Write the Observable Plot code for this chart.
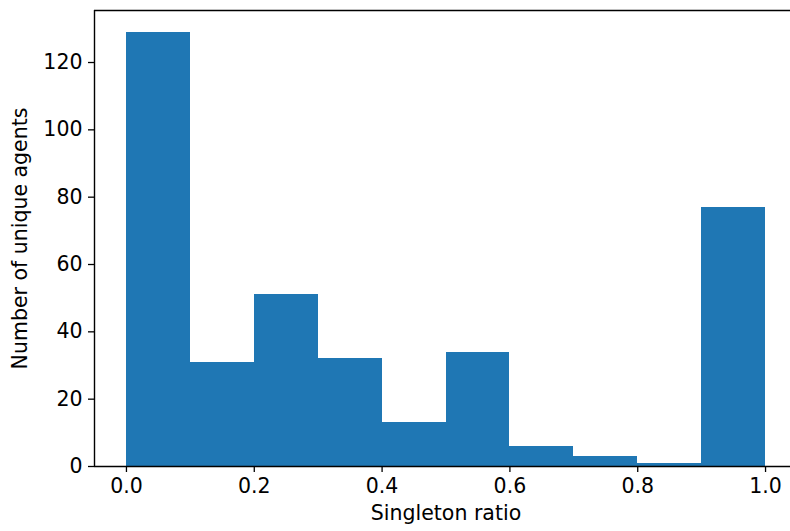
<!DOCTYPE html>
<html>
<head>
<meta charset="utf-8">
<script src="https://cdn.jsdelivr.net/npm/d3@7"></script>
<script src="https://cdn.jsdelivr.net/npm/@observablehq/plot@0.6"></script>
<style>
  html, body { margin: 0; padding: 0; background: white; }
</style>
</head>
<body>
<div id="chart"></div>
<script>
const binStarts = [0.0, 0.1, 0.2, 0.3, 0.4, 0.5, 0.6, 0.7, 0.8, 0.9];
const binEnds   = [0.1, 0.2, 0.3, 0.4, 0.5, 0.6, 0.7, 0.8, 0.9, 1.0];
const counts    = [129, 31, 51, 32, 13, 34, 6, 3, 1, 77];
const xTicks = [0.0, 0.2, 0.4, 0.6, 0.8, 1.0];
const yTicks = [0, 20, 40, 60, 80, 100, 120];
const xLabel = "Singleton ratio";
const yLabel = "Number of unique agents";

const bins = binStarts.map((s, i) => ({x1: s, x2: binEnds[i], count: counts[i]}));
const xDomain = [-0.05, 1.05];
const yDomain = [0, 129 * 1.05];
const fs = 20.5;

const chart = Plot.plot({
  width: 790,
  height: 531,
  marginLeft: 94,
  marginRight: -7,
  marginTop: 10,
  marginBottom: 65,
  style: {fontFamily: "DejaVu Sans", fontSize: fs + "px", background: "white", color: "black", overflow: "hidden"},
  x: {domain: xDomain},
  y: {domain: yDomain},
  marks: [
    Plot.rectY(bins, {x1: "x1", x2: "x2", y: "count", fill: "#1f77b4", inset: 0, shapeRendering: "crispEdges"}),
    Plot.ruleX([xDomain[0]], {stroke: "black", strokeWidth: 1.4}),
    Plot.ruleY([yDomain[0], yDomain[1]], {stroke: "black", strokeWidth: 1.4}),
    Plot.axisX({ticks: xTicks, tickFormat: d => d.toFixed(1), tickSize: 6, tickPadding: 6, fontSize: fs, strokeWidth: 1.3, label: null}),
    Plot.axisY({ticks: yTicks, tickFormat: d => String(d), tickSize: 6, tickPadding: 6, fontSize: fs, strokeWidth: 1.3, label: null}),
    Plot.text([xLabel], {frameAnchor: "bottom", dy: 53, fontSize: fs, fill: "black"}),
    Plot.text([yLabel], {frameAnchor: "left", textAnchor: "middle", lineAnchor: "middle", dx: -74, rotate: -90, fontSize: fs, fill: "black"})
  ]
});
document.getElementById("chart").appendChild(chart);
</script>
</body>
</html>
